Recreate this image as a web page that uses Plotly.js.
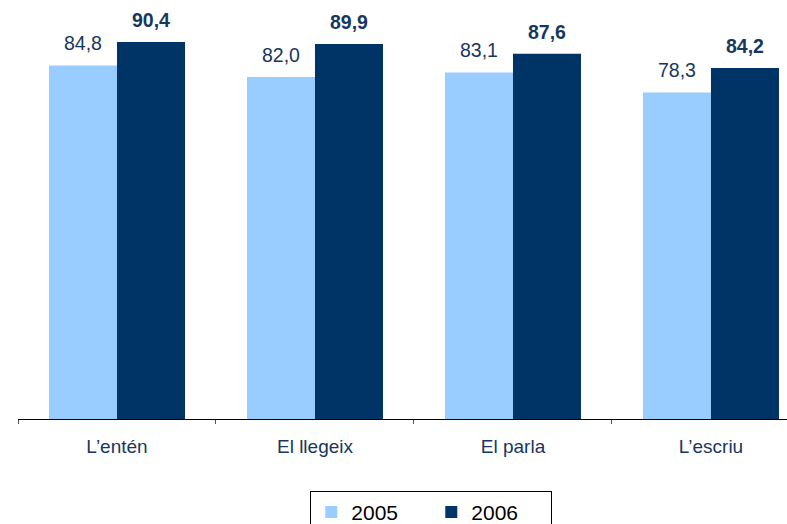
<!DOCTYPE html>
<html>
<head>
<meta charset="utf-8">
<script src="https://cdn.plot.ly/plotly-3.0.1.min.js"></script>
<style>html,body{margin:0;padding:0;background:#fff;overflow:hidden;}</style>
</head>
<body>
<div id="chart" style="width:787px;height:524px;"></div>
<script>
var categories = ["L\u2019entén", "El llegeix", "El parla", "L\u2019escriu"];
var series2005 = [84.8, 82.0, 83.1, 78.3];
var series2006 = [90.4, 89.9, 87.6, 84.2];
var seriesNames = ["2005", "2006"];

function fmt(v) { return v.toFixed(1).replace('.', ','); }

var FONT = "Liberation Sans, Arial, sans-serif";
var textColor = "#17375E";

var traces = [
  {type: 'bar', name: seriesNames[0], x: categories, y: series2005,
   marker: {color: '#99CCFF'}, hoverinfo: 'none'},
  {type: 'bar', name: seriesNames[1], x: categories, y: series2006,
   marker: {color: '#003366'}, hoverinfo: 'none'}
];

var bargap = 0.313;
var half = (1 - bargap) / 4;
var annotations = [];
categories.forEach(function (c, i) {
  annotations.push({x: i - half, y: series2005[i], xref: 'x', yref: 'y', text: fmt(series2005[i]),
    showarrow: false, yanchor: 'bottom', yshift: 9,
    font: {family: FONT, size: 19.5, color: textColor}});
  annotations.push({x: i + half, y: series2006[i], xref: 'x', yref: 'y', text: '<b>' + fmt(series2006[i]) + '</b>',
    showarrow: false, yanchor: 'bottom', yshift: 9,
    font: {family: FONT, size: 19.5, color: textColor}});
});

var layout = {
  width: 787, height: 524,
  margin: {l: 18, r: 0, t: 2, b: 105, autoexpand: false},
  paper_bgcolor: '#fff', plot_bgcolor: '#fff',
  barmode: 'group', bargap: bargap, bargroupgap: 0,
  font: {family: FONT},
  xaxis: {
    type: 'category', range: [-0.5, 3.384],
    showline: true, linecolor: '#000', linewidth: 1,
    ticks: 'outside', tickson: 'boundaries', ticklen: 4, tickcolor: '#555',
    tickfont: {family: FONT, size: 19, color: textColor},
    ticklabelstandoff: 10,
    showgrid: false, zeroline: false, fixedrange: true
  },
  yaxis: {range: [0, 100], visible: false, fixedrange: true},
  showlegend: true,
  legend: {
    orientation: 'h', xref: 'container', yref: 'container',
    x: 0.548, xanchor: 'center', y: 0.0635, yanchor: 'top',
    bordercolor: '#000', borderwidth: 1, bgcolor: '#fff',
    font: {family: FONT, size: 21, color: '#000'},
    itemwidth: 30, entrywidth: 75, traceorder: 'normal'
  },
  annotations: annotations
};

Plotly.newPlot('chart', traces, layout, {displayModeBar: false, staticPlot: true});
</script>
</body>
</html>
